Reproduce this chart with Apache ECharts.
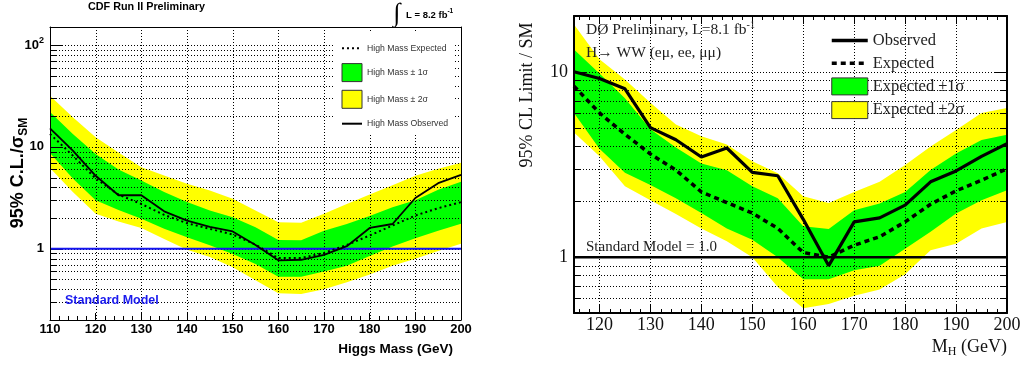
<!DOCTYPE html>
<html><head><meta charset="utf-8">
<script src="https://cdn.jsdelivr.net/npm/echarts@6/dist/echarts.min.js"></script>
<style>html,body{margin:0;padding:0;background:#fff}#c{width:1031px;height:365px}</style>
</head><body><div id="c"></div>
<script>
// ---------------- CDF (left panel) ----------------
const cdfMass     = [110,115,120,125,130,135,140,145,150,155,160,165,170,175,180,185,190,195,200];
const cdfObserved = [15.2,9.2,5.2,3.35,3.35,2.33,1.89,1.64,1.48,1.09,0.77,0.78,0.87,1.06,1.6,1.75,3.15,4.4,5.3];
const cdfExpected = [13.4,8.2,4.9,3.4,2.75,2.15,1.78,1.57,1.38,1.1,0.81,0.81,0.91,1.09,1.35,1.69,2.12,2.5,2.87];
const cdfPlus1    = [22,13.4,8.5,6.0,4.67,3.6,2.87,2.37,2.04,1.63,1.22,1.21,1.5,1.75,2.1,2.55,3.0,3.8,4.55];
const cdfMinus1   = [8.7,4.9,3.0,2.4,1.97,1.57,1.3,1.08,0.89,0.71,0.53,0.53,0.6,0.68,0.85,1.05,1.27,1.5,1.76];
const cdfPlus2    = [31.8,19.5,12.4,8.8,6.3,5.23,4.34,3.73,3.09,2.37,1.82,1.8,2.2,2.75,3.4,4.2,5.2,6.1,7.0];
const cdfMinus2   = [6.2,3.6,2.2,1.85,1.6,1.25,0.98,0.83,0.66,0.49,0.365,0.36,0.40,0.47,0.56,0.68,0.8,0.95,1.12];
const cdfYRange   = [0.2, 150];
const cdfXRange   = [110, 200];
const cdfYGrid    = [0.3,0.4,0.5,0.6,0.7,0.8,0.9,1,2,3,4,5,6,7,8,9,10,20,30,40,50,60,70,80,90,100];
const cdfYMajor   = [1,10,100];
const cdfYLabelValues = [1,10,100];
const cdfYLabelTexts  = ['1','10','10{sup|2}'];
const cdfXGrid    = [120,130,140,150,160,170,180,190];

// ---------------- D0 (right panel) ----------------
const d0Mass     = [115,120,125,130,135,140,145,150,155,160,165,170,175,180,185,190,195,200];
const d0Observed = [10.0,9.2,8.1,5.0,4.3,3.47,3.88,2.87,2.75,1.6,0.9,1.55,1.63,1.91,2.55,2.92,3.5,4.1];
const d0Expected = [8.37,6.0,4.6,3.6,2.95,2.25,1.97,1.73,1.43,1.06,1.0,1.16,1.29,1.55,1.93,2.28,2.6,3.0];
const d0Plus1    = [13.2,9.8,7.2,4.9,3.9,3.2,2.94,2.41,2.08,1.47,1.42,1.79,1.95,2.25,2.95,3.63,4.29,4.57];
const d0Minus1   = [6.0,3.85,2.85,2.45,2.08,1.73,1.43,1.24,1.0,0.76,0.76,0.85,0.9,1.11,1.37,1.72,2.03,2.3];
const d0Plus2    = [18,11.7,9.1,6.8,5.2,4.49,4.05,3.29,2.84,2.13,1.96,2.25,2.55,3.14,3.95,4.86,6.0,6.38];
const d0Minus2   = [4.7,3.5,2.41,2.03,1.71,1.43,1.22,1.0,0.69,0.53,0.56,0.62,0.67,0.81,1.09,1.18,1.43,1.55];
const d0YRange   = [0.5, 20];
const d0XRange   = [115, 200];
const d0YGrid    = [0.6,0.7,0.8,0.9,1,2,3,4,5,6,7,8,9,10];
const d0YMajor   = [1,10];
const d0YLabelValues = [1,10];
const d0YLabelTexts  = ['1','10'];
const d0XGrid    = [120,130,140,150,160,170,180,190];
const d0XMajorTicks = [120,130,140,150,160,170,180,190];
const d0XMinorTicks = [116,118,122,124,126,128,132,134,136,138,142,144,146,148,152,154,156,158,
                       162,164,166,168,172,174,176,178,182,184,186,188,192,194,196,198];
const d0XLabelValues = [120,130,140,150,160,170,180,190,200];

const smLevel = 1.0;

const SANS = '"Liberation Sans", Arial, sans-serif';
const SERIF = '"Liberation Serif", "Times New Roman", serif';
const GREEN = '#00ff00', YELLOW = '#ffff00';

function bandSeries(name, xi, xs, lo, hi, color) {
  return {
    name, type: 'custom', xAxisIndex: xi, yAxisIndex: xi, z: 1, silent: true, clip: true,
    itemStyle: {color},
    data: xs.map((x, i) => [x, lo[i], hi[i]]),
    encode: {x: 0, y: [1, 2]},
    renderItem: (params, api) => {
      if (params.dataIndex !== 0) return null;
      const pts = [];
      for (let i = 0; i < xs.length; i++) pts.push(api.coord([xs[i], hi[i]]));
      for (let i = xs.length - 1; i >= 0; i--) pts.push(api.coord([xs[i], lo[i]]));
      return {type: 'polygon', shape: {points: pts}, style: {fill: color}};
    }
  };
}

function hGridSeries(xi, xRef, values, majors, lenMajor, lenMinor, bothSides) {
  return {
    type: 'custom', xAxisIndex: xi, yAxisIndex: xi, z: 2, silent: true,
    data: values.map(v => [xRef, v]),
    encode: {x: 0, y: 1},
    renderItem: (params, api) => {
      const cs = params.coordSys;
      const v = api.value(1);
      const y = Math.round(api.coord([api.value(0), v])[1]) + 0.5;
      const L = majors.indexOf(v) >= 0 ? lenMajor : lenMinor;
      const ch = [
        {type: 'line', shape: {x1: cs.x, y1: y, x2: cs.x + cs.width, y2: y},
         style: {stroke: '#000', lineWidth: 1, lineDash: [1, 2]}},
        {type: 'line', shape: {x1: cs.x, y1: y, x2: cs.x + L, y2: y},
         style: {stroke: '#000', lineWidth: 1}}
      ];
      if (bothSides) ch.push({type: 'line', shape: {x1: cs.x + cs.width - L, y1: y, x2: cs.x + cs.width, y2: y},
         style: {stroke: '#000', lineWidth: 1}});
      return {type: 'group', children: ch};
    }
  };
}

function vGridSeries(xi, yRef, values) {
  return {
    type: 'custom', xAxisIndex: xi, yAxisIndex: xi, z: 2, silent: true,
    data: values.map(v => [v, yRef]),
    encode: {x: 0, y: 1},
    renderItem: (params, api) => {
      const cs = params.coordSys;
      const x = Math.round(api.coord([api.value(0), api.value(1)])[0]) + 0.5;
      return {type: 'line', shape: {x1: x, y1: cs.y, x2: x, y2: cs.y + cs.height},
              style: {stroke: '#000', lineWidth: 1, lineDash: [1, 2]}};
    }
  };
}

function xTickSeries(xi, yRef, values, len) {
  return {
    type: 'custom', xAxisIndex: xi, yAxisIndex: xi, z: 5, silent: true,
    data: values.map(v => [v, yRef]),
    encode: {x: 0, y: 1},
    renderItem: (params, api) => {
      const cs = params.coordSys;
      const x = Math.round(api.coord([api.value(0), api.value(1)])[0]) + 0.5;
      return {type: 'group', children: [
        {type: 'line', shape: {x1: x, y1: cs.y + cs.height, x2: x, y2: cs.y + cs.height - len}, style: {stroke: '#000', lineWidth: 1}},
        {type: 'line', shape: {x1: x, y1: cs.y, x2: x, y2: cs.y + len}, style: {stroke: '#000', lineWidth: 1}}
      ]};
    }
  };
}

function logLabel(values, texts) {
  return v => {
    for (let i = 0; i < values.length; i++) {
      if (Math.abs(v - values[i]) < 1e-6 * values[i]) return texts[i];
    }
    return '';
  };
}

const pairs = (xs, ys) => xs.map((x, i) => [x, ys[i]]);
const TXT = {align: 'left', textAlign: 'left', verticalAlign: 'middle', textVerticalAlign: 'middle'};
const txt = (x, y, style, extra) => Object.assign({type: 'text', x, y, z: 20, zlevel: 0, silent: true,
  style: Object.assign({}, TXT, style)}, extra || {});

const option = {
  animation: false,
  backgroundColor: '#fff',
  grid: [
    {left: 50, width: 411, top: 27, height: 293},
    {left: 574, right: 24, top: 16, bottom: 52}
  ],
  xAxis: [
    {type: 'value', gridIndex: 0, min: cdfXRange[0], max: cdfXRange[1], interval: 10, position: 'bottom', z: 5,
     axisLine: {onZero: false, lineStyle: {color: '#000', width: 1}},
     axisTick: {inside: true, length: 7, lineStyle: {color: '#000'}},
     minorTick: {show: true, splitNumber: 5, length: 4, lineStyle: {color: '#000'}},
     axisLabel: {margin: 3, fontFamily: SANS, fontWeight: 'bold', fontSize: 13, color: '#000'},
     splitLine: {show: false}},
    {type: 'value', gridIndex: 0, min: cdfXRange[0], max: cdfXRange[1], position: 'top', z: 5,
     axisLine: {onZero: false, lineStyle: {color: '#000', width: 1}},
     axisTick: {show: false}, axisLabel: {show: false}, splitLine: {show: false}},
    {type: 'value', gridIndex: 1, min: d0XRange[0], max: d0XRange[1], interval: 5, position: 'bottom', z: 5,
     axisLine: {onZero: false, lineStyle: {color: '#000', width: 2}},
     axisTick: {show: false},
     axisLabel: {margin: 3, fontFamily: SERIF, fontSize: 18, color: '#111',
       formatter: v => (d0XLabelValues.indexOf(Math.round(v)) >= 0 && Math.abs(v - Math.round(v)) < 1e-6) ? String(Math.round(v)) : ''},
     splitLine: {show: false}},
    {type: 'value', gridIndex: 1, min: d0XRange[0], max: d0XRange[1], position: 'top', z: 5,
     axisLine: {onZero: false, lineStyle: {color: '#000', width: 2}},
     axisTick: {show: false}, axisLabel: {show: false}, splitLine: {show: false}}
  ],
  yAxis: [
    {type: 'log', logBase: 10, gridIndex: 0, min: cdfYRange[0], max: cdfYRange[1], position: 'left', z: 5,
     axisLine: {show: true, onZero: false, lineStyle: {color: '#000', width: 1}},
     axisTick: {show: false}, splitLine: {show: false}, minorSplitLine: {show: false},
     axisLabel: {margin: 6, fontFamily: SANS, fontWeight: 'bold', fontSize: 13, color: '#000',
       formatter: logLabel(cdfYLabelValues, cdfYLabelTexts),
       rich: {sup: {fontFamily: SANS, fontWeight: 'bold', fontSize: 9, color: '#000', padding: [0, 0, 9, 0]}}}},
    {type: 'log', logBase: 10, gridIndex: 0, min: cdfYRange[0], max: cdfYRange[1], position: 'right', z: 5,
     axisLine: {show: true, onZero: false, lineStyle: {color: '#000', width: 1}},
     axisTick: {show: false}, axisLabel: {show: false}, splitLine: {show: false}},
    {type: 'log', logBase: 10, gridIndex: 1, min: d0YRange[0], max: d0YRange[1], position: 'left', z: 5,
     axisLine: {show: true, onZero: false, lineStyle: {color: '#000', width: 2}},
     axisTick: {show: false}, splitLine: {show: false},
     axisLabel: {margin: 6, fontFamily: SERIF, fontSize: 18, color: '#111',
       formatter: logLabel(d0YLabelValues, d0YLabelTexts)}},
    {type: 'log', logBase: 10, gridIndex: 1, min: d0YRange[0], max: d0YRange[1], position: 'right', z: 5,
     axisLine: {show: true, onZero: false, lineStyle: {color: '#000', width: 2}},
     axisTick: {show: false}, axisLabel: {show: false}, splitLine: {show: false}}
  ],
  legend: [
    {orient: 'vertical', left: 333, top: 33, padding: [8, 6, 3, 8], backgroundColor: '#fff',
     itemWidth: 20, itemHeight: 18, itemGap: 7.7, selectedMode: false,
     textStyle: {fontFamily: SANS, fontSize: 8.7, color: '#333'},
     data: [
       {name: 'High Mass Expected', itemStyle: {opacity: 0}, lineStyle: {width: 2, type: [2, 3], color: '#000'}},
       {name: 'High Mass ± 1σ', icon: 'rect', itemStyle: {color: GREEN, borderColor: '#333', borderWidth: 1}},
       {name: 'High Mass ± 2σ', icon: 'rect', itemStyle: {color: YELLOW, borderColor: '#333', borderWidth: 1}},
       {name: 'High Mass Observed', itemStyle: {opacity: 0}, lineStyle: {width: 2, color: '#000'}}
     ]},
    {orient: 'vertical', left: 830, top: 32, padding: 0,
     itemWidth: 36, itemHeight: 17, itemGap: 5.7, selectedMode: false,
     textStyle: {fontFamily: SERIF, fontSize: 16.5, color: '#222'},
     data: [
       {name: 'Observed', itemStyle: {opacity: 0}, lineStyle: {width: 3.5, color: '#000'}},
       {name: 'Expected', itemStyle: {opacity: 0}, lineStyle: {width: 3.5, type: [5, 4], color: '#000'}},
       {name: 'Expected ±1σ', icon: 'rect', itemStyle: {color: GREEN, borderColor: '#333', borderWidth: 1}},
       {name: 'Expected ±2σ', icon: 'rect', itemStyle: {color: YELLOW, borderColor: '#333', borderWidth: 1}}
     ]}
  ],
  graphic: [
    txt(88, 7, {text: 'CDF Run II Preliminary', font: 'bold 10.8px ' + SANS, fill: '#000'}),
    txt(397, 14, {text: '∫', font: '26px ' + SERIF, fill: '#000', align: 'center', textAlign: 'center'}),
    txt(406, 15, {text: 'L = 8.2 fb{sup|-1}', font: 'bold 9.5px ' + SANS, fill: '#000',
      rich: {sup: {font: 'bold 6.5px ' + SANS, fill: '#000', padding: [0, 0, 8, 0]}}}),
    txt(18, 173, {text: '95% C.L./σ{sub|SM}', font: 'bold 18px ' + SANS, fill: '#000', align: 'center', textAlign: 'center',
      rich: {sub: {font: 'bold 12px ' + SANS, fill: '#000', padding: [11, 0, 0, 0]}}}, {rotation: Math.PI / 2}),
    txt(453, 349, {text: 'Higgs Mass (GeV)', font: 'bold 13.5px ' + SANS, fill: '#000', align: 'right', textAlign: 'right'}),
    txt(65, 301, {text: 'Standard Model', font: 'bold 12.5px ' + SANS, fill: '#1a1aee'}),
    txt(527, 95, {text: '95% CL Limit / SM', font: '18px ' + SERIF, fill: '#111', align: 'center', textAlign: 'center'},
      {rotation: Math.PI / 2}),
    txt(1007, 347, {text: 'M{sub|H} (GeV)', font: '18px ' + SERIF, fill: '#111', align: 'right', textAlign: 'right',
      rich: {sub: {font: '12px ' + SERIF, fill: '#111', padding: [10, 0, 0, 0]}}}),
    txt(586, 30, {text: 'DØ Preliminary, L=8.1 fb{sup|-1}', font: '15.5px ' + SERIF, fill: '#222',
      rich: {sup: {font: '10px ' + SERIF, fill: '#222', padding: [0, 0, 10, 0]}}}),
    txt(586, 53, {text: 'H→ WW (eμ, ee, μμ)', font: '15.5px ' + SERIF, fill: '#222'}),
    txt(586, 247, {text: 'Standard Model = 1.0', font: '15px ' + SERIF, fill: '#222'})
  ],
  series: [
    // left panel
    bandSeries('High Mass ± 2σ', 0, cdfMass, cdfMinus2, cdfPlus2, YELLOW),
    bandSeries('High Mass ± 1σ', 0, cdfMass, cdfMinus1, cdfPlus1, GREEN),
    hGridSeries(0, cdfMass[0], cdfYGrid, cdfYMajor, 12, 6, false),
    vGridSeries(0, cdfYRange[0], cdfXGrid),
    {type: 'line', xAxisIndex: 0, yAxisIndex: 0, z: 3, silent: true, symbol: 'none',
     data: [[cdfMass[0], smLevel], [cdfMass[cdfMass.length - 1], smLevel]],
     lineStyle: {color: '#1515f0', width: 2.2}},
    {name: 'High Mass Expected', type: 'line', xAxisIndex: 0, yAxisIndex: 0, z: 4, symbol: 'none',
     data: pairs(cdfMass, cdfExpected), lineStyle: {color: '#000', width: 2, type: [2, 3]}, itemStyle: {color: '#000'}},
    {name: 'High Mass Observed', type: 'line', xAxisIndex: 0, yAxisIndex: 0, z: 4, symbol: 'none',
     data: pairs(cdfMass, cdfObserved), lineStyle: {color: '#000', width: 1.8}, itemStyle: {color: '#000'}},
    // right panel
    bandSeries('Expected ±2σ', 2, d0Mass, d0Minus2, d0Plus2, YELLOW),
    bandSeries('Expected ±1σ', 2, d0Mass, d0Minus1, d0Plus1, GREEN),
    hGridSeries(2, d0Mass[0], d0YGrid, d0YMajor, 12, 6, true),
    vGridSeries(2, d0YRange[0], d0XGrid),
    xTickSeries(2, d0YRange[0], d0XMajorTicks, 8),
    xTickSeries(2, d0YRange[0], d0XMinorTicks, 4),
    {type: 'line', xAxisIndex: 2, yAxisIndex: 2, z: 3, silent: true, symbol: 'none',
     data: [[d0Mass[0], smLevel], [d0Mass[d0Mass.length - 1], smLevel]],
     lineStyle: {color: '#000', width: 2.5}},
    {name: 'Expected', type: 'line', xAxisIndex: 2, yAxisIndex: 2, z: 4, symbol: 'none',
     data: pairs(d0Mass, d0Expected), lineStyle: {color: '#000', width: 3.5, type: [5, 4]}, itemStyle: {color: '#000'}},
    {name: 'Observed', type: 'line', xAxisIndex: 2, yAxisIndex: 2, z: 4, symbol: 'none',
     data: pairs(d0Mass, d0Observed), lineStyle: {color: '#000', width: 3.2}, itemStyle: {color: '#000'}}
  ]
};

const chart = echarts.init(document.getElementById('c'), null, {renderer: 'canvas', width: 1031, height: 365});
chart.setOption(option);
</script>
</body></html>
